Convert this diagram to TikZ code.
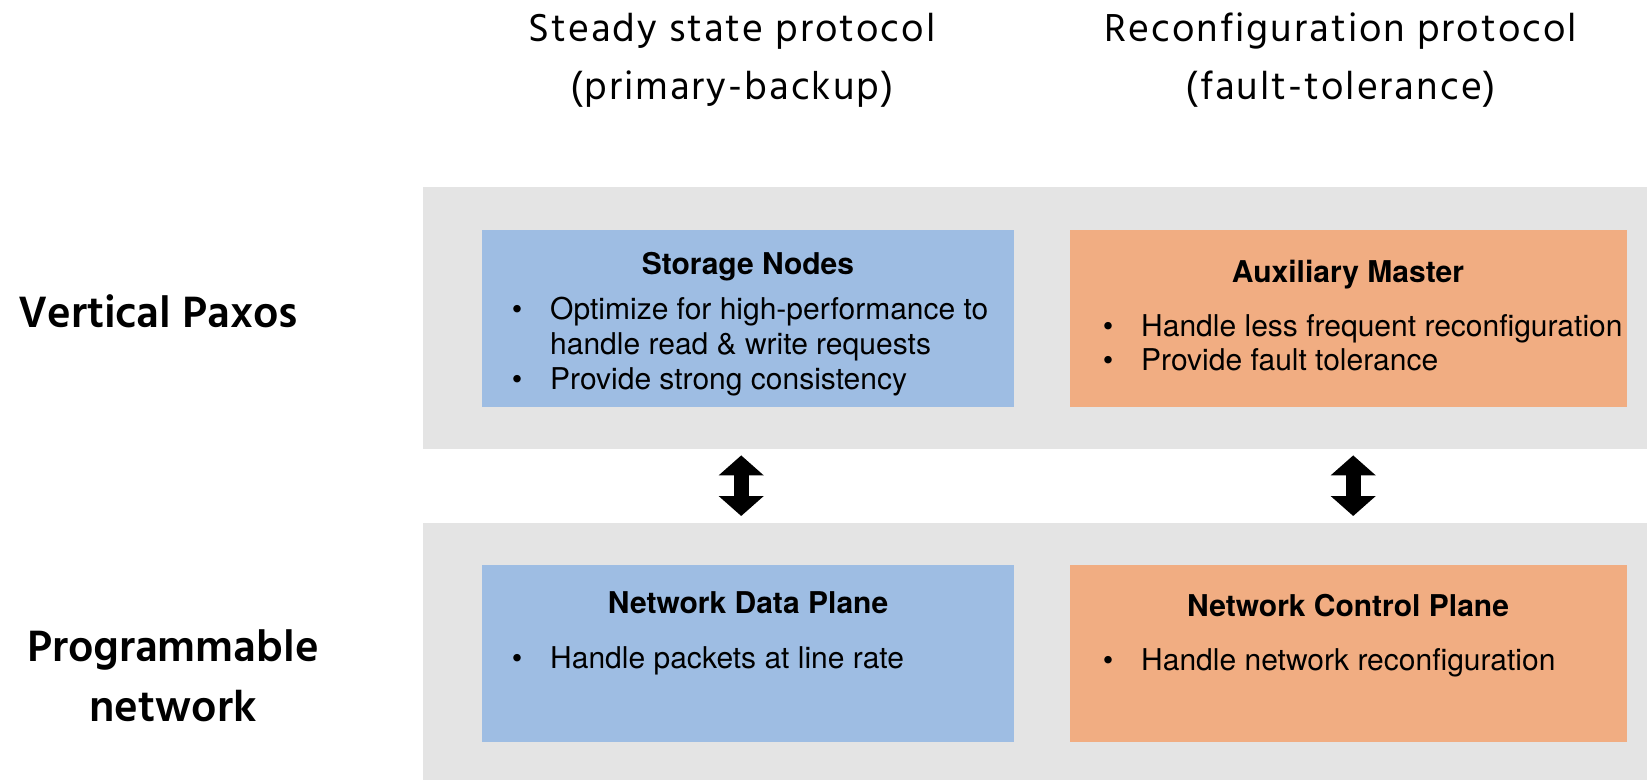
\documentclass[tikz,border=0pt]{standalone}
\usepackage{fontspec}
\setmainfont{TeX Gyre Heros}
\newfontfamily\hindfont{Hind Madurai}
\newfontfamily\hindwide[LetterSpace=5]{Hind Madurai}
\usetikzlibrary{arrows.meta}
\definecolor{panelgray}{RGB}{228,228,228}
\definecolor{boxblue}{RGB}{158,189,227}
\definecolor{boxorange}{RGB}{241,173,130}
\tikzset{
  panel/.style={fill=panelgray, draw=none, anchor=north west, inner sep=0pt,
    minimum width=1224pt},
  layerbox/.style={draw=none, anchor=north west, inner sep=0pt, minimum height=177pt},
  bluebox/.style={layerbox, fill=boxblue, minimum width=532pt},
  orangebox/.style={layerbox, fill=boxorange, minimum width=557pt},
  boxtitle/.style={anchor=base, inner sep=0pt, font=\fontsize{30}{34}\selectfont\bfseries},
  boxline/.style={anchor=base west, inner sep=0pt, font=\fontsize{30}{34}\selectfont},
  dot/.style={anchor=base, inner sep=0pt, font=\fontsize{30}{34}\selectfont},
  header/.style={align=center, inner sep=0pt, font=\hindwide\fontsize{40}{58}\selectfont},
  sidelabel/.style={align=center, inner sep=0pt, font=\hindfont\bfseries\fontsize{45}{60}\selectfont},
  bigarrow/.style={line width=15pt,
    {Triangle[width=44pt,length=20pt]}-{Triangle[width=44pt,length=20pt]},
    shorten <=6pt, shorten >=7pt}
}
\begin{document}
\begin{tikzpicture}[x=1pt,y=-1pt]
\useasboundingbox (0,0) rectangle (1647,780);

% column headings
\node[header] (steady) at (732,60) {Steady state protocol\\(primary-backup)};
\node[header] (reconf) at (1341,60) {Reconfiguration protocol\\(fault-tolerance)};

% row labels
\node[sidelabel] (vplabel) at (158,311) {Vertical Paxos};
\node[sidelabel] (pnlabel) at (173,676) {Programmable\\network};

% layer panels
\node[panel, minimum height=262pt] (vp) at (423,187) {};
\node[panel, minimum height=257pt] (pn) at (423,523) {};

% Vertical Paxos layer
\node[bluebox] (sn) at (482,230) {};
\node[boxtitle] (snt) at (748,274) {Storage Nodes};
\node[dot] at (517,319) {\textbullet};
\node[boxline] (sn1) at (550,319) {Optimize for high-performance to};
\node[boxline] (sn2) at (550,354) {handle read \& write requests};
\node[dot] at (517,389) {\textbullet};
\node[boxline] (sn3) at (550,389) {Provide strong consistency};

\node[orangebox] (am) at (1070,230) {};
\node[boxtitle] (amt) at (1348,282) {Auxiliary Master};
\node[dot] at (1108,336) {\textbullet};
\node[boxline] (am1) at (1141,336) {Handle less frequent reconfiguration};
\node[dot] at (1108,370) {\textbullet};
\node[boxline] (am2) at (1141,370) {Provide fault tolerance};

% Programmable network layer
\node[bluebox] (dp) at (482,565) {};
\node[boxtitle] (dpt) at (748,613) {Network Data Plane};
\node[dot] at (517,668) {\textbullet};
\node[boxline] (dp1) at (550,668) {Handle packets at line rate};

\node[orangebox] (cp) at (1070,565) {};
\node[boxtitle] (cpt) at (1348,616) {Network Control Plane};
\node[dot] at (1108,670) {\textbullet};
\node[boxline] (cp1) at (1141,670) {Handle network reconfiguration};

% interaction between the layers
\draw[bigarrow] ([xshift=-7pt]sn.south |- vp.south) -- ([xshift=-7pt]dp.north |- pn.north);
\draw[bigarrow] ([xshift=4.5pt]am.south |- vp.south) -- ([xshift=4.5pt]cp.north |- pn.north);
\end{tikzpicture}
\end{document}
